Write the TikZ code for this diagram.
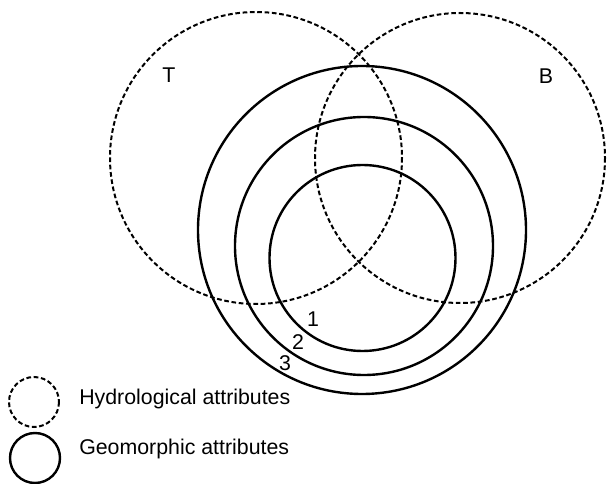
\documentclass[tikz,border=0pt]{standalone}
\usepackage{fontspec}
\setmainfont{Liberation Sans}
\begin{document}
\begin{tikzpicture}[x=0.75pt, y=-0.75pt,
    hydro/.style={line width=1.5pt, dash pattern=on 3.5pt off 2pt},
    geo/.style={line width=1.8pt},
    lbl/.style={font=\fontsize{16}{19}\selectfont, inner sep=0pt}
]
    \useasboundingbox (0,0) rectangle (607,484);

    % hydrological sets
    \draw[hydro] (256,158) circle[radius=146];
    \draw[hydro] (460,158) circle[radius=145];
    \node[lbl] (t) at (169,75) {T};
    \node[lbl] (b) at (546,76) {B};

    % geomorphic sets
    \draw[geo] (362,230) circle[radius=164];
    \draw[geo] (364,246) circle[radius=129];
    \draw[geo] (362.5,258) circle[radius=93];
    \node[lbl] (n1) at (313,319) {1};
    \node[lbl] (n2) at (298,342) {2};
    \node[lbl] (n3) at (285,363) {3};

    % legend
    \draw[hydro] (34,402) circle[radius=25];
    \draw[geo] (35,458) circle[radius=25];
    \node[lbl, anchor=west] (hyd) at (79,399) {Hydrological attributes};
    \node[lbl, anchor=west] (geom) at (79,449) {Geomorphic attributes};
\end{tikzpicture}
\end{document}
